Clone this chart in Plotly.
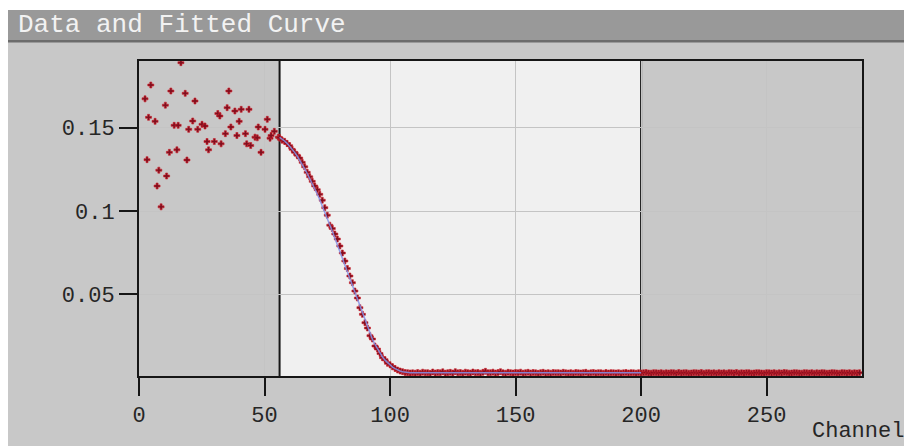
import plotly.graph_objects as go

# Channels / values in the noisy region before the fit window
ch_pre = [2.4, 3.2, 3.8, 4.7, 6.4, 7.2, 7.9, 8.8, 10.5, 11.0, 12.1, 12.7, 14.0,
          15.1, 15.6, 16.7, 18.4, 19.1, 19.8, 21.4, 22.3, 23.4, 25.1, 26.3, 27.1,
          27.7, 30.0, 31.4, 32.2, 32.7, 34.4, 35.1, 35.8, 36.6, 38.2, 39.0, 39.9,
          40.7, 42.4, 42.9, 43.8, 44.5, 46.2, 47.1, 47.5, 48.6, 50.2, 51.1, 52.2,
          52.6, 53.9, 55.5]
val_pre = [0.1673, 0.1308, 0.1562, 0.1756, 0.1538, 0.1150, 0.1245, 0.1025, 0.1635,
           0.1210, 0.1352, 0.1720, 0.1514, 0.1367, 0.1514, 0.1890, 0.1706, 0.1306,
           0.1490, 0.1540, 0.1660, 0.1490, 0.1520, 0.1510, 0.1417, 0.1367, 0.1417,
           0.1585, 0.1570, 0.1403, 0.1464, 0.1620, 0.1720, 0.1504, 0.1600, 0.1453,
           0.1538, 0.1610, 0.1464, 0.1403, 0.1610, 0.1393, 0.1443, 0.1439, 0.1504,
           0.1352, 0.1490, 0.1550, 0.1437, 0.1453, 0.1478, 0.1443]

# Channels 56..110: the falling edge
ch_edge = list(range(56, 111))
val_edge = [0.1440, 0.1425, 0.1418, 0.1405, 0.1392, 0.1370, 0.1352, 0.1335, 0.1318,
            0.1292, 0.1265, 0.1232, 0.1205, 0.1178, 0.1150, 0.1128, 0.1100, 0.1065,
            0.1020, 0.0975, 0.0915, 0.0895, 0.0862, 0.0832, 0.0790, 0.0748, 0.0700,
            0.0655, 0.0610, 0.0570, 0.0520, 0.0478, 0.0420, 0.0380, 0.0330, 0.0298,
            0.0252, 0.0232, 0.0190, 0.0172, 0.0145, 0.0120, 0.0108, 0.0086, 0.0078,
            0.0065, 0.0055, 0.0046, 0.0040, 0.0036, 0.0031, 0.0030, 0.0028, 0.0029,
            0.0027]

# Channels 111..287: baseline
ch_base = list(range(111, 288))
val_base = [
    0.0031, 0.0027, 0.0033, 0.0029, 0.0030, 0.0026, 0.0034, 0.0028, 0.0031, 0.0029,
    0.0035, 0.0027, 0.0030, 0.0032, 0.0028, 0.0036, 0.0029, 0.0031, 0.0027, 0.0033,
    0.0030, 0.0028, 0.0034, 0.0029, 0.0031, 0.0027, 0.0032, 0.0038, 0.0029, 0.0030,
    0.0033, 0.0028, 0.0031, 0.0036, 0.0029, 0.0027, 0.0032, 0.0030, 0.0028, 0.0031,
    0.0029, 0.0033, 0.0027, 0.0030, 0.0032, 0.0028, 0.0031, 0.0029, 0.0026, 0.0030,
    0.0032, 0.0028, 0.0030, 0.0027, 0.0031, 0.0029, 0.0030, 0.0028, 0.0032, 0.0029,
    0.0028, 0.0030, 0.0027, 0.0031, 0.0029, 0.0028, 0.0030, 0.0032, 0.0027, 0.0029,
    0.0031, 0.0028, 0.0030, 0.0029, 0.0027, 0.0031, 0.0028, 0.0030, 0.0029, 0.0028,
    0.0030, 0.0027, 0.0029, 0.0031, 0.0028, 0.0030, 0.0029, 0.0027, 0.0030, 0.0028,
    0.0029, 0.0031, 0.0028, 0.0027, 0.0030, 0.0029, 0.0028, 0.0030, 0.0027, 0.0029,
    0.0028, 0.0030, 0.0029, 0.0027, 0.0031, 0.0028, 0.0029, 0.0030, 0.0027, 0.0028,
    0.0030, 0.0029, 0.0028, 0.0031, 0.0027, 0.0029, 0.0030, 0.0028, 0.0029, 0.0027,
    0.0030, 0.0028, 0.0029, 0.0027, 0.0030, 0.0029, 0.0028, 0.0031, 0.0027, 0.0029,
    0.0028, 0.0030, 0.0029, 0.0027, 0.0028, 0.0030, 0.0029, 0.0028, 0.0027, 0.0030,
    0.0029, 0.0028, 0.0030, 0.0027, 0.0029, 0.0028, 0.0031, 0.0029, 0.0027, 0.0028,
    0.0030, 0.0029, 0.0028, 0.0027, 0.0030, 0.0029, 0.0028, 0.0030, 0.0027, 0.0029,
    0.0028, 0.0030, 0.0029, 0.0027, 0.0028, 0.0030, 0.0029, 0.0028, 0.0027, 0.0030,
    0.0029, 0.0028, 0.0030, 0.0027, 0.0029, 0.0028, 0.0030]

# Fitted curve over the fit window (56..200)
ch_fit = list(range(56, 111)) + [140, 200]
val_fit = [0.1442, 0.1432, 0.1420, 0.1406, 0.1390, 0.1372, 0.1352, 0.1330, 0.1306,
           0.1280, 0.1253, 0.1225, 0.1196, 0.1166, 0.1135, 0.1102, 0.1068, 0.1032,
           0.0995, 0.0957, 0.0918, 0.0878, 0.0838, 0.0797, 0.0756, 0.0715, 0.0674,
           0.0633, 0.0593, 0.0553, 0.0514, 0.0470, 0.0425, 0.0382, 0.0340, 0.0300,
           0.0264, 0.0230, 0.0199, 0.0171, 0.0146, 0.0124, 0.0105, 0.0089, 0.0075,
           0.0063, 0.0054, 0.0046, 0.0040, 0.0036, 0.0033, 0.0031, 0.0030, 0.0029,
           0.0029, 0.0029, 0.0029]

fit_window = [56, 200]
x_ticks = [0, 50, 100, 150, 200, 250]
y_ticks = [0.05, 0.1, 0.15]

channels = ch_pre + ch_edge + ch_base
values = val_pre + val_edge + val_base

W, H = 904, 446
L, R, T, B = 139, 42, 61, 70
pw, ph = W - L - R, H - T - B


def px(xp):
    return (xp - L) / pw


def py(yp):
    return (H - B - yp) / ph


MONO = "Liberation Mono, Courier New, monospace"

fig = go.Figure()

fig.add_trace(go.Scatter(
    x=channels, y=values, mode="markers",
    marker=dict(symbol="cross", size=5, color="#7e1020",
                line=dict(width=0.6, color="#d0202a")),
    hoverinfo="x+y", showlegend=False))

fig.add_trace(go.Scatter(
    x=ch_fit, y=val_fit, mode="lines",
    line=dict(color="#8594ea", width=1.5), opacity=0.85,
    hoverinfo="x+y", showlegend=False))

shapes = [
    # white strips around the widget
    dict(type="rect", xref="paper", yref="paper", layer="below",
         x0=px(-2), x1=px(W + 2), y0=py(10), y1=py(-2),
         fillcolor="#ffffff", line=dict(width=0)),
    dict(type="rect", xref="paper", yref="paper", layer="below",
         x0=px(-2), x1=px(8), y0=py(H + 2), y1=py(-2),
         fillcolor="#ffffff", line=dict(width=0)),
    # title bar
    dict(type="rect", xref="paper", yref="paper", layer="below",
         x0=px(8), x1=px(W + 2), y0=py(40), y1=py(10),
         fillcolor="#999999", line=dict(width=0)),
    dict(type="rect", xref="paper", yref="paper", layer="below",
         x0=px(8), x1=px(W + 2), y0=py(42.5), y1=py(40),
         fillcolor="#6c6c6c", line=dict(width=0)),
    # regions outside the fit window
    dict(type="rect", xref="x", yref="paper", layer="between",
         x0=0, x1=fit_window[0], y0=0, y1=1,
         fillcolor="#c8c8c8", line=dict(width=0)),
    dict(type="rect", xref="x", yref="paper", layer="between",
         x0=fit_window[1], x1=288, y0=0, y1=1,
         fillcolor="#c8c8c8", line=dict(width=0)),
]
for xv in fit_window:
    shapes.append(dict(type="line", xref="x", yref="paper", layer="between",
                       x0=xv, x1=xv, y0=0, y1=1,
                       line=dict(color="#161616", width=2)))

fig.update_layout(
    width=W, height=H,
    margin=dict(l=L, r=R, t=T, b=B),
    paper_bgcolor="#c8c8c8",
    plot_bgcolor="#f0f0f0",
    shapes=shapes,
    font=dict(family=MONO, color="#262626"),
    annotations=[
        dict(text="Data and Fitted Curve", xref="paper", yref="paper",
             x=px(16), y=py(25), xanchor="left", yanchor="middle",
             showarrow=False, font=dict(family=MONO, size=26, color="#f2f2f2")),
        dict(text="Channel", xref="paper", yref="paper",
             x=px(906), y=py(431), xanchor="right", yanchor="middle",
             showarrow=False, font=dict(family=MONO, size=22, color="#262626")),
    ],
)

axis_common = dict(
    ticks="outside", ticklen=18, tickwidth=2, tickcolor="#161616",
    showline=True, linecolor="#161616", linewidth=2, mirror=True,
    showgrid=True, gridcolor="#c4c4c4", gridwidth=1, zeroline=False,
    tickfont=dict(family=MONO, size=22, color="#262626"),
)
fig.update_xaxes(range=[0, 288], tickvals=x_ticks,
                 ticktext=[str(v) for v in x_ticks], **axis_common)
fig.update_yaxes(range=[0.001, 0.19], tickvals=y_ticks,
                 ticktext=["0.05", "0.1", "0.15"], **axis_common)

fig.write_html("out.html")
